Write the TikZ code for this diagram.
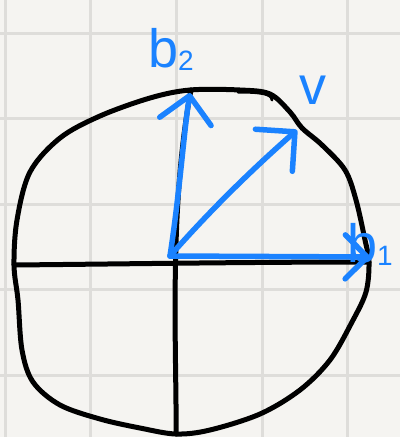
\documentclass[tikz,border=0pt]{standalone}
\usepackage{fontspec}
\setmainfont{Liberation Sans}
\usetikzlibrary{arrows.meta}
\definecolor{paper}{HTML}{F5F4F1}
\definecolor{gridc}{HTML}{DEDDDA}
\definecolor{pen}{HTML}{1A82FF}
\tikzset{
  gridline/.style={draw=gridc, line width=3pt},
  ink/.style={draw=black, line width=5pt, line cap=round, line join=round},
  vec/.style={draw=pen, line width=5.5pt, line cap=round, line join=round,
    -{Straight Barb[round, length=#1]}},
  vec/.default=22pt,
  lbl/.style={text=pen, inner sep=0pt, font=\fontsize{54}{54}\selectfont},
}
\newcommand{\subn}[1]{{\fontsize{28}{28}\selectfont\raisebox{-3pt}{#1}}}
\begin{document}
\begin{tikzpicture}[x=1pt, y=-1pt]
\fill[paper] (0,0) rectangle (400,437);
\useasboundingbox (0,0) rectangle (400,437);
\foreach \g in {5,90.7,176.4,262.1,347.8}{\draw[gridline] (\g,0) -- (\g,437);}
\foreach \g in {33,118.5,204,289.5,375}{\draw[gridline] (0,\g) -- (400,\g);}
% circle-like outline
\draw[ink] plot[smooth cycle, tension=0.55] coordinates {
  (14,265) (17,220) (30,172) (60,138) (100,116) (150,98) (190,90) (240,90)
  (270,94) (290,112) (302,128) (322,145) (345,170) (356,200) (365,240)
  (369,262) (366,292) (352,322) (330,360) (300,390) (260,414) (210,430)
  (176,434) (140,428) (100,419) (60,405) (33,382) (22,350) (18,300)};
\draw[ink, line width=3pt] (238,92) .. controls (262,92) and (272,94) .. (272,100);
% axes
\coordinate (L) at (14,265);
\coordinate (R) at (369,262);
\coordinate (B) at (176,434);
\coordinate (T) at (191,90);
\draw[ink] (L) .. controls (120,264) and (250,262) .. (R);
\draw[ink] (B) .. controls (177,360) and (168,210) .. (T);
% vectors
\coordinate (O) at (170,256);
\coordinate (b1) at (370,257);
\coordinate (b2) at (190,93);
\coordinate (v) at (297,130);
\draw[vec=22pt] (O) -- (b1);
\draw[vec=26pt] (O) .. controls (180,190) and (184,130) .. (b2);
\draw[vec=28pt] (O) .. controls (200,222) and (240,180) .. (v);
% labels
\node[lbl, anchor=base west] (lb2) at (148,67) {b\subn{2}};
\node[lbl, anchor=base west] (lv) at (299,104) {v};
\node[lbl, anchor=base west] (lb1) at (347,262) {b\subn{1}};
\end{tikzpicture}
\end{document}
